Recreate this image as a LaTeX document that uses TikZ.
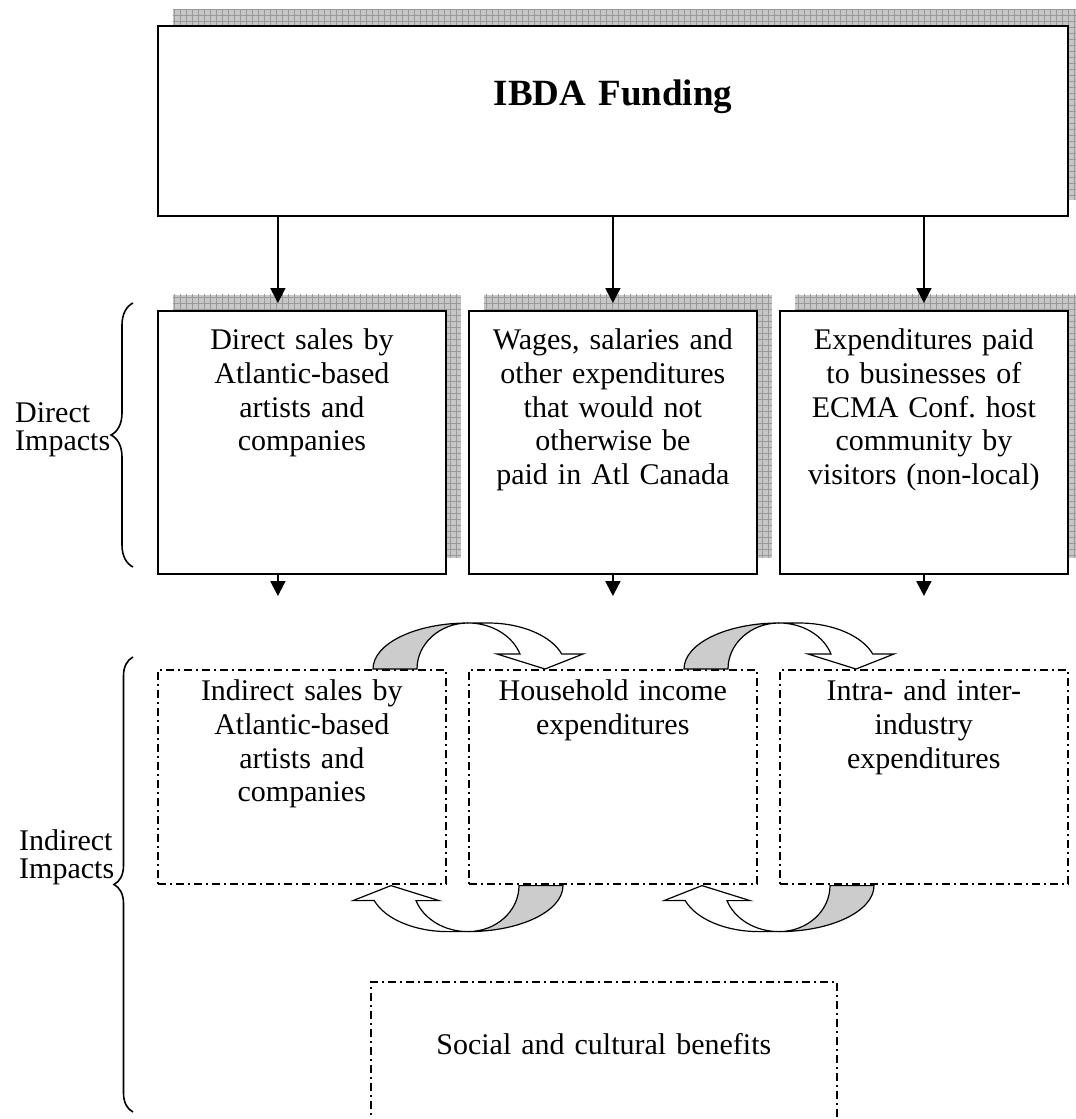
\documentclass[tikz,border=0pt]{standalone}
\usepackage{fontspec}
\setmainfont{Liberation Serif}
\usetikzlibrary{arrows.meta,shadows,patterns,decorations.pathreplacing}

\tikzset{
  boxtext/.style={font=\fontsize{15pt}{16.8pt}\selectfont, align=center, inner xsep=2pt, inner ysep=0pt},
  shadowbox/.style={boxtext, draw, line width=0.9pt, fill=white,
    general shadow={fill=black!22, shadow xshift=7.5pt, shadow yshift=8pt},
    general shadow={pattern=grid, pattern color=black!40, shadow xshift=7.5pt, shadow yshift=8pt}},
  dashbox/.style={boxtext, draw, line width=0.8pt, dash pattern=on 4pt off 2pt on 1pt off 2pt},
  arr/.style={line width=1pt, -{Triangle[width=7.5pt,length=7.5pt]}},
  bracebar/.style={decorate, decoration={brace, amplitude=#1}, line width=0.8pt},
  sidelabel/.style={font=\fontsize{15pt}{14pt}\selectfont, align=left, inner sep=0pt},
  pics/loopArrow/.style={code={
    \filldraw[fill=black!20, line width=0.6pt] (-95,0)
      arc[start angle=180, end angle=270, x radius=95, y radius=46]
      arc[start angle=270, end angle=180, x radius=51, y radius=46] -- cycle;
    \filldraw[fill=white, line width=0.6pt] (0,-46) -- (20,-46)
      arc[start angle=270, end angle=341, x radius=78, y radius=46]
      -- (115,-15) -- (77,0) -- (29,-15) -- (52,-15)
      arc[start angle=341, end angle=270, x radius=55, y radius=46] -- cycle;
  }}
}

\begin{document}
\begin{tikzpicture}[x=0.5pt, y=-0.5pt]
  \useasboundingbox (0,0) rectangle (1076,1119);
  % funding
  \node[shadowbox, anchor=north west, text width=451pt, text height=40pt, text depth=55pt,
        font=\fontsize{18.5pt}{20pt}\selectfont\bfseries] (fund) at (157,25) {IBDA Funding};
  % direct impacts
  \node[shadowbox, anchor=north west, text width=140pt, text height=19.5pt, text depth=112pt] (d1) at (157,310)
    {Direct sales by\\Atlantic-based\\artists and\\companies};
  \node[shadowbox, anchor=north west, text width=140pt, text height=19.5pt, text depth=112pt] (d2) at (468,310)
    {Wages, salaries and\\other expenditures\\that would not\\otherwise be\\paid in Atl Canada};
  \node[shadowbox, anchor=north west, text width=140pt, text height=19.5pt, text depth=112pt] (d3) at (779,310)
    {Expenditures paid\\to businesses of\\ECMA Conf.\ host\\community by\\visitors (non-local)};
  % indirect impacts
  \node[dashbox, anchor=north west, text width=140pt, text height=15.5pt, text depth=91.5pt] (i1) at (157,669)
    {Indirect sales by\\Atlantic-based\\artists and\\companies};
  \node[dashbox, anchor=north west, text width=140pt, text height=15.5pt, text depth=91.5pt] (i2) at (468,669)
    {Household income\\expenditures};
  \node[dashbox, anchor=north west, text width=140pt, text height=15.5pt, text depth=91.5pt] (i3) at (779,669)
    {Intra- and inter-\\industry\\expenditures};
  \node[dashbox, anchor=north west, text width=229pt, text height=36.5pt, text depth=50pt] (soc) at (370,981)
    {Social and cultural benefits};
  % arrows
  \coordinate (a1) at ([xshift=-12pt]d1.north);
  \draw[arr, shorten >=3.5pt] (fund.south -| a1) -- (a1);
  \draw[arr, shorten >=3.5pt] (fund.south -| d2.north) -- (d2.north);
  \draw[arr, shorten >=3.5pt] (fund.south -| d3.north) -- (d3.north);
  \draw[arr, shorten >=36.5pt] (a1 |- d1.south) -- (a1 |- i1.north);
  \draw[arr, shorten >=36.5pt] (d2.south) -- (i2.north -| d2.south);
  \draw[arr, shorten >=36.5pt] (d3.south) -- (i3.north -| d3.south);
  % loops between indirect boxes
  \pic at (i2.north west) {loopArrow};
  \pic at (i3.north west) {loopArrow};
  \pic[rotate=180] at ([yshift=-0.5pt]i2.south west) {loopArrow};
  \pic[rotate=180] at ([yshift=-0.5pt]i3.south west) {loopArrow};
  % braces
  \draw[bracebar=11pt] (133,567) -- node[sidelabel, left=11pt, yshift=2.5pt] (dlab) {Direct\\Impacts} (133,303);
  \draw[bracebar=9.5pt] (133,1112) -- node[sidelabel, left=9pt, yshift=13.5pt] (ilab) {Indirect\\Impacts} (133,657);
\end{tikzpicture}
\end{document}
